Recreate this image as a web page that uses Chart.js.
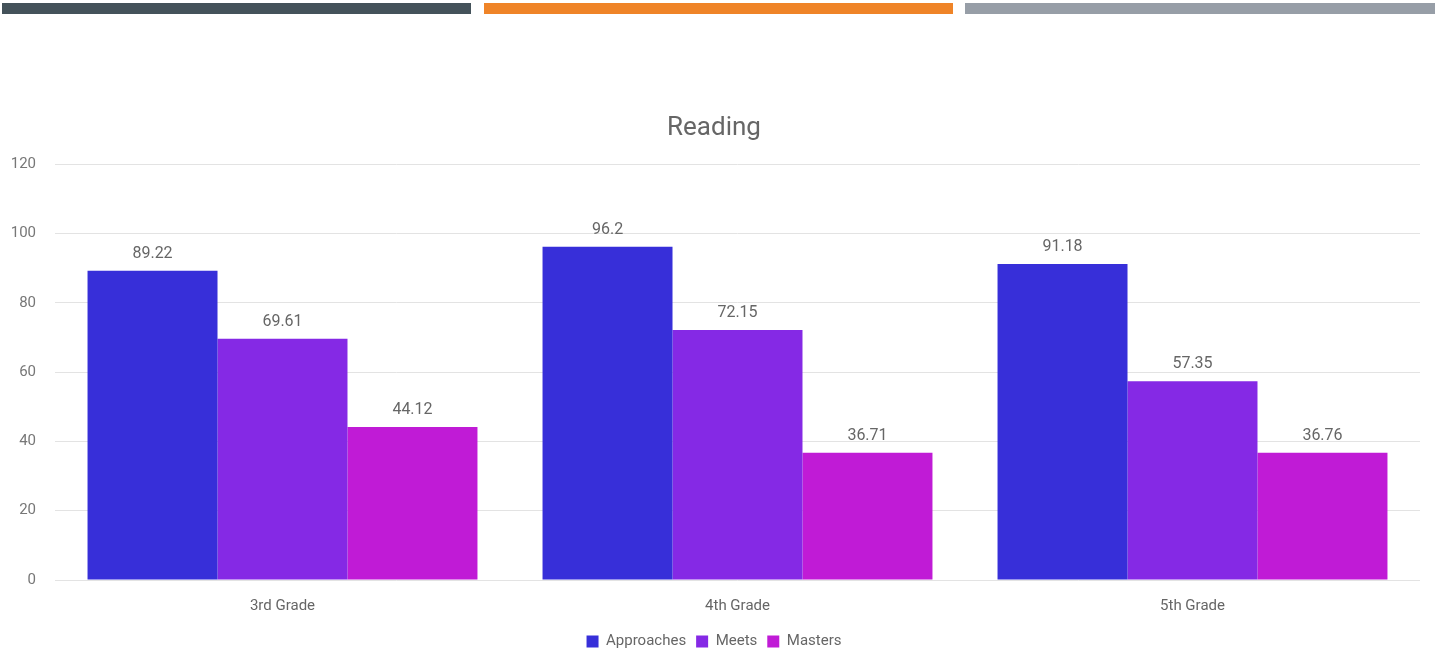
<!DOCTYPE html>
<html>
<head>
<meta charset="utf-8">
<script src="https://cdn.jsdelivr.net/npm/chart.js@4/dist/chart.umd.min.js"></script>
<style>
  body { margin: 0; background: #fff; overflow: hidden; }
  .strip { position: absolute; top: 3px; height: 11px; }
  #wrap { position: absolute; left: 0; top: 0; width: 1437px; height: 659px; }
</style>
</head>
<body>
<div class="strip" style="left:2px;width:469px;background:#44525a"></div>
<div class="strip" style="left:484px;width:469px;background:#ef8428"></div>
<div class="strip" style="left:965px;width:470px;background:#979ea7"></div>
<div id="wrap"><canvas id="myChart"></canvas></div>
<script>
var grades = ["3rd Grade", "4th Grade", "5th Grade"];
var approaches = [89.22, 96.2, 91.18];
var meets = [69.61, 72.15, 57.35];
var masters = [44.12, 36.71, 36.76];
var yTicks = [0, 20, 40, 60, 80, 100, 120];

var fontFamily = "Roboto, sans-serif";

// write each bar's value just above it
var valueLabels = {
    id: 'valueLabels',
    afterDatasetsDraw: function(chart){
        var ctx = chart.ctx;
        ctx.save();
        ctx.font = "16px " + fontFamily;
        ctx.fillStyle = "#666";
        ctx.textAlign = "center";
        ctx.textBaseline = "bottom";
        chart.data.datasets.forEach(function(ds, i){
            chart.getDatasetMeta(i).data.forEach(function(bar, j){
                ctx.fillText(String(ds.data[j]), bar.x, bar.y - 9);
            });
        });
        ctx.restore();
    }
};

var myChart = new Chart(document.getElementById("myChart").getContext("2d"), {
    type: 'bar',
    data: {
        labels: grades,
        datasets: [
            { label: "Approaches", data: approaches, backgroundColor: "#372fd9" },
            { label: "Meets", data: meets, backgroundColor: "#8529e5" },
            { label: "Masters", data: masters, backgroundColor: "#c01bd6" }
        ]
    },
    plugins: [valueLabels],
    options: {
        responsive: true,
        maintainAspectRatio: false,
        animation: false,
        datasets: { bar: { categoryPercentage: 0.857, barPercentage: 1.0 } },
        layout: { padding: { top: 113, left: 8, right: 17, bottom: 0 } },
        plugins: {
            title: {
                display: true,
                text: "Reading",
                color: "#666",
                font: { family: fontFamily, size: 26, weight: 'normal' },
                padding: { top: 0, bottom: 20 }
            },
            legend: {
                position: 'bottom',
                labels: {
                    color: "#666",
                    font: { family: fontFamily, size: 15 },
                    boxWidth: 12,
                    boxHeight: 12,
                    padding: 10
                }
            },
            tooltip: { enabled: false }
        },
        scales: {
            x: {
                grid: { display: false },
                border: { display: false },
                ticks: { color: "#666", font: { family: fontFamily, size: 15 }, padding: 9 }
            },
            y: {
                min: 0,
                max: 120,
                afterBuildTicks: function(scale){
                    scale.ticks = yTicks.map(function(v){ return { value: v }; });
                },
                afterFit: function(scale){ scale.width = 47; },
                grid: { color: "#e3e3e3", drawTicks: false },
                border: { display: false },
                ticks: { color: "#777", font: { family: fontFamily, size: 15 }, padding: 19 }
            }
        }
    }
});
</script>
</body>
</html>
